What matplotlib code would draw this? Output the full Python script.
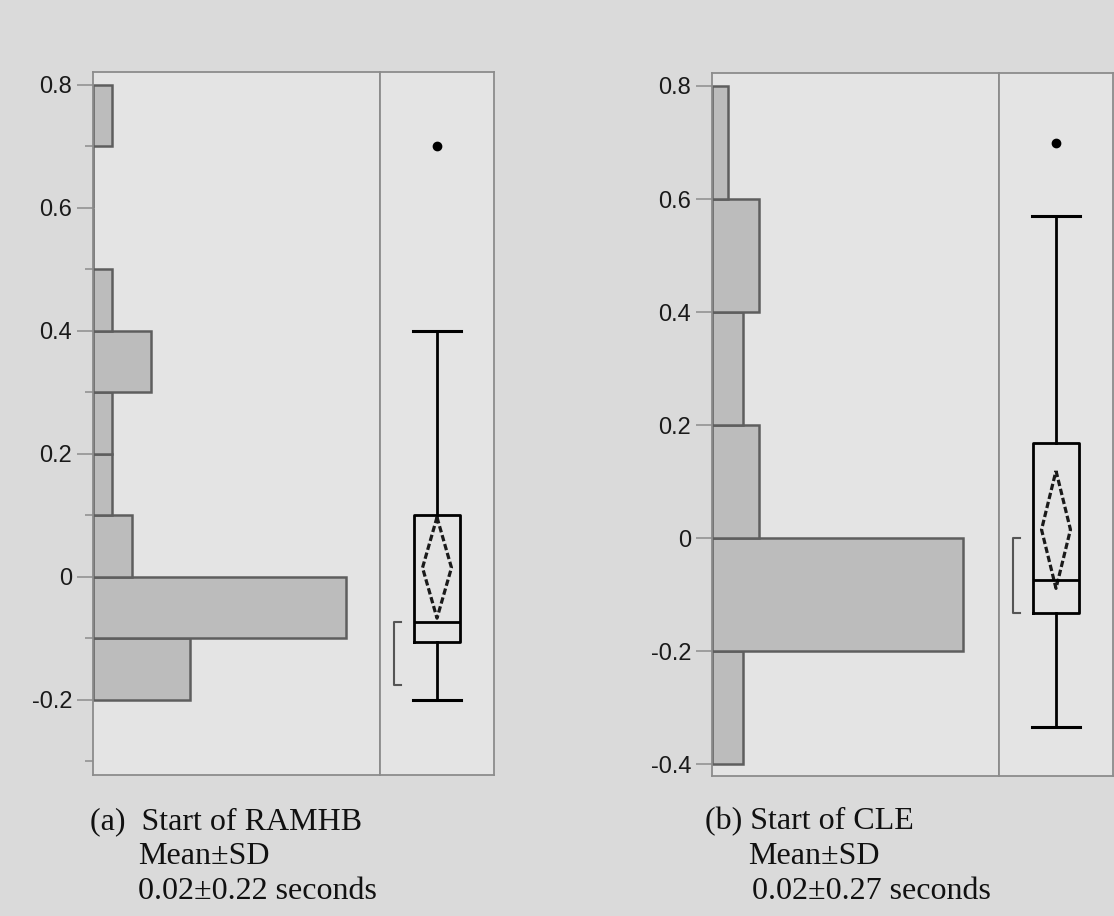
import matplotlib
matplotlib.use("Agg")
import matplotlib.pyplot as plt

# histogram bins (seconds) and counts
a_edges = [-0.2, -0.1, 0.0, 0.1, 0.2, 0.3, 0.4, 0.5, 0.6, 0.7, 0.8]
a_counts = [5, 13, 2, 1, 1, 3, 1, 0, 0, 1]
b_edges = [-0.4, -0.2, 0.0, 0.2, 0.4, 0.6, 0.8]
b_counts = [2, 16, 3, 2, 3, 1]

# box plot summaries
a_box = dict(whislo=-0.2, q1=-0.105, med=-0.073, q3=0.1, whishi=0.4, fliers=[0.7])
b_box = dict(whislo=-0.335, q1=-0.133, med=-0.074, q3=0.168, whishi=0.57, fliers=[0.70])
a_mean, a_ci = 0.015, 0.082
b_mean, b_ci = 0.015, 0.104
a_short = (-0.175, -0.073)
b_short = (-0.133, 0.0)

a_major = [0.8, 0.6, 0.4, 0.2, 0.0, -0.2]
a_minor = [0.7, 0.5, 0.3, 0.1, -0.1, -0.3]
b_major = [0.8, 0.6, 0.4, 0.2, 0.0, -0.4, -0.2]

a_caption = ["(a)  Start of RAMHB", "Mean\u00b1SD", "0.02\u00b10.22 seconds"]
b_caption = ["(b) Start of CLE", "Mean\u00b1SD", "0.02\u00b10.27 seconds"]

W, H = 1114, 916
fig = plt.figure(figsize=(W / 100, H / 100), dpi=100)
fig.patch.set_facecolor("#dadada")

frame_col = "#8c8c8c"
bar_fill = "#bcbcbc"
bar_edge = "#5e5e5e"


def box(x0, y0, x1, y1):
    return [x0 / W, 1 - y1 / H, (x1 - x0) / W, (y1 - y0) / H]


def label(v):
    if abs(v) < 1e-9:
        return "0"
    return "%.1f" % v


def panel(hx0, hx1, bx1, ytop, ybot, ylim, xmax, edges, counts, major, minor,
          stats, mean, ci, short):
    ah = fig.add_axes(box(hx0, ytop, hx1, ybot))
    ab = fig.add_axes(box(hx1, ytop, bx1, ybot))
    for ax in (ah, ab):
        ax.set_facecolor("#e4e4e4")
        for s in ax.spines.values():
            s.set_color(frame_col)
            s.set_linewidth(1.3)

    widths = [edges[i + 1] - edges[i] for i in range(len(counts))]
    ah.barh(edges[:-1], counts, height=widths, align="edge",
            color=bar_fill, edgecolor=bar_edge, linewidth=1.8)
    ah.set_xlim(0, xmax)
    ah.set_ylim(*ylim)
    ah.set_xticks([])
    ah.set_yticks(major)
    ah.set_yticklabels([label(v) for v in major], family="Liberation Sans",
                       fontsize=17, color="#1a1a1a")
    ah.set_yticks(minor, minor=True)
    ah.tick_params(axis="y", which="major", length=11.5, width=1.1,
                   color=frame_col, pad=3.5)
    ah.tick_params(axis="y", which="minor", length=5.8, width=1.1,
                   color=frame_col)

    st = dict(stats)
    st["mean"] = mean
    ab.bxp([st], positions=[0.5], widths=0.4, capwidths=0.42,
           showfliers=True, patch_artist=False,
           boxprops=dict(color="black", linewidth=2.0),
           whiskerprops=dict(color="black", linewidth=2.0),
           capprops=dict(color="black", linewidth=2.2),
           medianprops=dict(color="black", linewidth=2.0),
           flierprops=dict(marker="o", markerfacecolor="black",
                           markeredgecolor="black", markersize=6))
    dx = 0.127
    ab.plot([0.5, 0.5 + dx, 0.5, 0.5 - dx, 0.5],
            [mean + ci, mean, mean - ci, mean, mean + ci],
            color="#1a1a1a", linewidth=2.3, linestyle=(0, (2.0, 0.9)))
    ab.plot([0.184, 0.123, 0.123, 0.184],
            [short[1], short[1], short[0], short[0]],
            color="#555555", linewidth=1.5)
    ab.set_xlim(0, 1)
    ab.set_ylim(*ylim)
    ab.set_xticks([])
    ab.set_yticks([])
    return ah, ab


panel(93, 380, 494, 72, 775, (-0.322, 0.821), 14.72, a_edges, a_counts,
      a_major, a_minor, a_box, a_mean, a_ci, a_short)
panel(712, 999, 1113, 73, 776, (-0.421, 0.823), 18.3, b_edges, b_counts,
      b_major, [], b_box, b_mean, b_ci, b_short)

cap_kw = dict(family="Liberation Serif", fontsize=23, color="#111111",
              va="baseline", ha="left")
for (x1, x2, x3), lines in (((90, 138, 138), a_caption),
                            ((705, 748, 752), b_caption)):
    for x, y, t in zip((x1, x2, x3), (829, 864, 899), lines):
        fig.text(x / W, 1 - y / H, t, **cap_kw)

fig.savefig("out.png", dpi=100, facecolor=fig.get_facecolor())
